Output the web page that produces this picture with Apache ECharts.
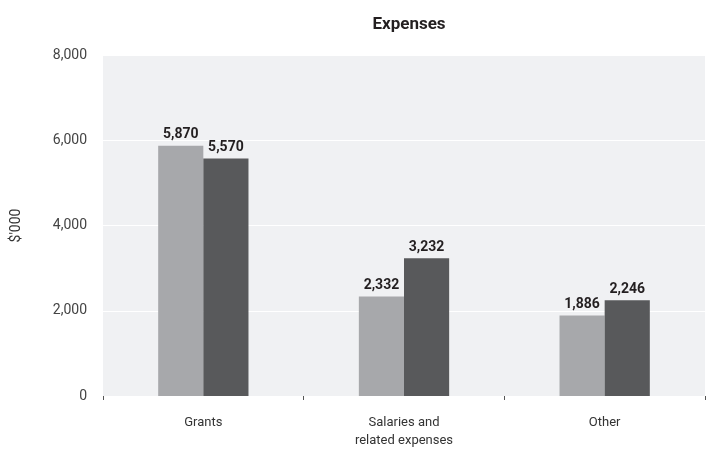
<!DOCTYPE html>
<html><head><meta charset="utf-8">
<script src="https://cdn.jsdelivr.net/npm/echarts@6/dist/echarts.min.js"></script>
<style>html,body{margin:0;padding:0;background:#fff}#c{width:706px;height:450px}</style>
</head><body><div id="c"></div>
<script>
const categories = ['Grants', 'Salaries and\nrelated expenses', 'Other'];
const seriesPrev = [5870, 2332, 1886];
const seriesCurr = [5570, 3232, 2246];
const yTicks = [0, 2000, 4000, 6000, 8000];

const chart = echarts.init(document.getElementById('c'), null, {renderer: 'canvas'});
const font = 'Roboto, "DejaVu Sans", sans-serif';
const lbl = {show: true, position: 'top', distance: 4, fontFamily: font, fontWeight: 'bold', fontSize: 14, color: '#231f20',
  formatter: p => p.value.toLocaleString('en-US')};
chart.setOption({
  animation: false,
  title: {text: 'Expenses', left: 404, top: 11, textAlign: 'center',
    textStyle: {fontFamily: font, fontWeight: 'bold', fontSize: 17, color: '#231f20'}},
  grid: {left: 103, right: 1, top: 55, bottom: 53, show: true, backgroundColor: '#f0f1f3', borderWidth: 0},
  xAxis: {type: 'category', data: categories,
    axisLine: {show: false}, axisTick: {show: true, length: 4, lineStyle: {color: '#555'}},
    axisLabel: {fontFamily: font, fontSize: 13, color: '#333', margin: 18, lineHeight: 18}},
  yAxis: {type: 'value', min: yTicks[0], max: yTicks[yTicks.length - 1], interval: 2000,
    name: "$'000", nameLocation: 'middle', nameGap: 80, nameRotate: 90,
    nameTextStyle: {fontFamily: font, fontSize: 14, color: '#333'},
    axisLine: {show: false}, axisTick: {show: false},
    axisLabel: {fontFamily: font, fontSize: 14, color: '#444', margin: 16, formatter: v => v.toLocaleString('en-US')},
    splitLine: {lineStyle: {color: '#ffffff', width: 1}}},
  series: [
    {type: 'bar', data: seriesPrev, barWidth: '22.5%', barGap: '0%', itemStyle: {color: '#a7a8ab'}, label: lbl},
    {type: 'bar', data: seriesCurr, barWidth: '22.5%', barGap: '0%', itemStyle: {color: '#58595b'}, label: lbl}
  ]
});
</script></body></html>
